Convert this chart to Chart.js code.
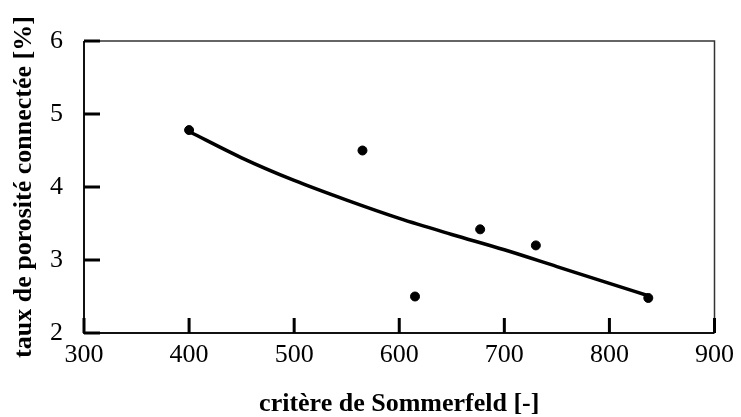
<!DOCTYPE html>
<html lang="fr">
<head>
<meta charset="utf-8">
<title>Porosité connectée / critère de Sommerfeld</title>
<script src="https://cdn.jsdelivr.net/npm/chart.js@4.4.1/dist/chart.umd.min.js"></script>
<style>
    html, body { margin: 0; padding: 0; background: #ffffff; }
    #cadre { width: 741px; height: 417px; }
</style>
</head>
<body>
<div id="cadre"><canvas id="graphique"></canvas></div>
<script>
// Données
const sommerfeld = [400, 565, 615, 677, 730, 837];
const porosite = [4.78, 4.50, 2.50, 3.42, 3.20, 2.48];

// Courbe de tendance
const tendanceX = [400, 450, 500, 550, 600, 650, 700, 750, 800, 837];
const tendanceY = [4.76, 4.40, 4.09, 3.82, 3.57, 3.35, 3.14, 2.91, 2.68, 2.51];

// Graduations des axes
const ticksX = [300, 400, 500, 600, 700, 800, 900];
const ticksY = [2, 3, 4, 5, 6];

const policeSerif = "'Liberation Serif', 'Times New Roman', serif";

// Cadre et graduations tournées vers l'intérieur
const cadrePlugin = {
    id: 'cadre',
    afterDatasetsDraw(chart) {
        const ctx = chart.ctx;
        const a = chart.chartArea;
        const sx = chart.scales.x, sy = chart.scales.y;
        ctx.save();
        // haut et droite : traits fins
        ctx.strokeStyle = '#333333';
        ctx.lineWidth = 1.5;
        ctx.beginPath();
        ctx.moveTo(a.left, a.top);
        ctx.lineTo(a.right, a.top);
        ctx.lineTo(a.right, a.bottom);
        ctx.stroke();
        // gauche et bas : traits épais
        ctx.strokeStyle = '#111111';
        ctx.lineWidth = 2;
        ctx.beginPath();
        ctx.moveTo(a.left, a.top);
        ctx.lineTo(a.left, a.bottom);
        ctx.lineTo(a.right, a.bottom);
        ctx.stroke();
        // graduations
        ctx.strokeStyle = '#000000';
        ctx.lineWidth = 3;
        ctx.beginPath();
        ticksX.forEach(v => {
            const px = sx.getPixelForValue(v);
            ctx.moveTo(px, a.bottom);
            ctx.lineTo(px, a.bottom - 15);
        });
        ticksY.forEach(v => {
            const py = sy.getPixelForValue(v);
            ctx.moveTo(a.left, py);
            ctx.lineTo(a.left + 16, py);
        });
        ctx.stroke();
        ctx.restore();
    }
};

const ctx = document.getElementById('graphique').getContext('2d');
new Chart(ctx, {
    type: 'scatter',
    data: {
        datasets: [
            {
                label: 'tendance',
                data: tendanceX.map((x, i) => ({ x: x, y: tendanceY[i] })),
                showLine: true,
                borderColor: '#000000',
                borderWidth: 3.5,
                cubicInterpolationMode: 'monotone',
                pointRadius: 0,
                fill: false,
                order: 2
            },
            {
                label: 'mesures',
                data: sommerfeld.map((x, i) => ({ x: x, y: porosite[i] })),
                backgroundColor: '#000000',
                borderColor: '#000000',
                pointRadius: 4.5,
                order: 1
            }
        ]
    },
    plugins: [cadrePlugin],
    options: {
        responsive: true,
        maintainAspectRatio: false,
        animation: false,
        layout: { padding: { top: 41, right: 22, left: 0, bottom: 0 } },
        plugins: { legend: { display: false }, tooltip: { enabled: false } },
        scales: {
            x: {
                type: 'linear',
                min: 300,
                max: 900,
                afterFit: s => { s.height = 84; },
                grid: { display: false, drawTicks: false },
                border: { display: false },
                ticks: {
                    stepSize: 100,
                    padding: 7,
                    color: '#000000',
                    font: { family: policeSerif, size: 26 }
                },
                title: {
                    display: true,
                    text: 'critère de Sommerfeld [-]',
                    color: '#000000',
                    padding: { top: 0, bottom: 0 },
                    font: { family: policeSerif, size: 26, weight: 'bold', lineHeight: 1 }
                }
            },
            y: {
                type: 'linear',
                min: 2,
                max: 6,
                afterFit: s => { s.width = 84; },
                grid: { display: false, drawTicks: false },
                border: { display: false },
                ticks: {
                    stepSize: 1,
                    padding: 21,
                    color: '#000000',
                    font: { family: policeSerif, size: 26 }
                },
                title: {
                    display: true,
                    text: 'taux de porosité connectée [%]',
                    color: '#000000',
                    padding: { top: 11, bottom: 0 },
                    font: { family: policeSerif, size: 26, weight: 'bold', lineHeight: 1 }
                }
            }
        }
    }
});
</script>
</body>
</html>
